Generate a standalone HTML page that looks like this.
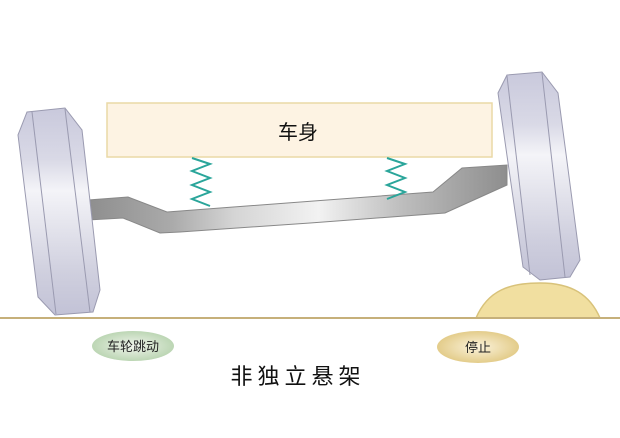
<!DOCTYPE html>
<html><head><meta charset="utf-8"><style>
html,body{margin:0;padding:0;background:#fff;width:620px;height:438px;overflow:hidden}
svg{display:block}
text{font-family:"Liberation Sans","Noto Sans CJK SC",sans-serif}
</style></head><body>
<svg width="620" height="438" viewBox="0 0 620 438">
<defs>
<linearGradient id="wg" x1="0" y1="0" x2="0" y2="1">
<stop offset="0" stop-color="#c9c9dc"/><stop offset="0.25" stop-color="#d9d9e6"/>
<stop offset="0.4" stop-color="#f4f4f8"/><stop offset="0.55" stop-color="#e6e6ee"/>
<stop offset="0.8" stop-color="#cfcfde"/><stop offset="1" stop-color="#c2c2d6"/>
</linearGradient>
<linearGradient id="ag" x1="0" y1="0" x2="1" y2="0">
<stop offset="0" stop-color="#8e8e8e"/><stop offset="0.2" stop-color="#aaa"/>
<stop offset="0.35" stop-color="#d5d5d5"/><stop offset="0.55" stop-color="#f2f2f2"/>
<stop offset="0.75" stop-color="#bdbdbd"/><stop offset="1" stop-color="#8e8e8e"/>
</linearGradient>
<radialGradient id="gg"><stop offset="0" stop-color="#f0f4ec"/><stop offset="1" stop-color="#bcd6b4"/></radialGradient>
<radialGradient id="yg"><stop offset="0" stop-color="#fbf3dc"/><stop offset="1" stop-color="#e3cc8a"/></radialGradient>
</defs>
<!-- body -->
<rect x="107" y="103" width="385" height="54" fill="#fdf3e3" stroke="#ead9a6" stroke-width="1.5"/>
<text x="298" y="139" font-size="20" text-anchor="middle" fill="#111">车身</text>
<!-- axle -->
<polygon points="88,200 128,197 167,212 433,192 462,168 507,165 507,185 445,213 310,223 180,232 160,233 123,218 88,220" fill="url(#ag)" stroke="#888" stroke-width="1"/>
<!-- springs -->
<polyline points="192,158 210,164 192,171 210,178 192,185 210,192 192,199 210,206" fill="none" stroke="#2aa59a" stroke-width="2"/>
<polyline points="387,158 405,164 387,171 405,178 387,185 405,192 387,199" fill="none" stroke="#2aa59a" stroke-width="2"/>
<!-- left wheel -->
<polygon points="27,112 65,108 82,130 100,290 93,312 55,315 38,297 18,135" fill="url(#wg)" stroke="#9a9ab0" stroke-width="1"/>
<line x1="32" y1="112" x2="56" y2="314" stroke="#9a9ab0"/>
<line x1="65" y1="109" x2="90" y2="312" stroke="#9a9ab0"/>
<!-- right wheel -->
<polygon points="507,75 542,72 558,93 580,260 570,277 540,280 523,267 498,93" fill="url(#wg)" stroke="#9a9ab0" stroke-width="1"/>
<line x1="507" y1="76" x2="530" y2="275" stroke="#9a9ab0"/>
<line x1="542" y1="73" x2="565" y2="277" stroke="#9a9ab0"/>
<!-- mound -->
<path d="M476,318 C488,290 510,283 540,283 C572,283 590,295 600,318 Z" fill="#f1dfa0" stroke="#d8c27a" stroke-width="1.5"/>
<!-- ground -->
<line x1="0" y1="318" x2="620" y2="318" stroke="#c6b07a" stroke-width="2"/>
<!-- buttons -->
<ellipse cx="133" cy="346" rx="41" ry="15" fill="url(#gg)"/>
<text x="133" y="351" font-size="13" text-anchor="middle" fill="#222">车轮跳动</text>
<ellipse cx="478" cy="347" rx="41" ry="16" fill="url(#yg)"/>
<text x="478" y="352" font-size="13" text-anchor="middle" fill="#222">停止</text>
<text x="298" y="384" font-size="22" text-anchor="middle" fill="#111" letter-spacing="5">非独立悬架</text>
</svg>
</body></html>
